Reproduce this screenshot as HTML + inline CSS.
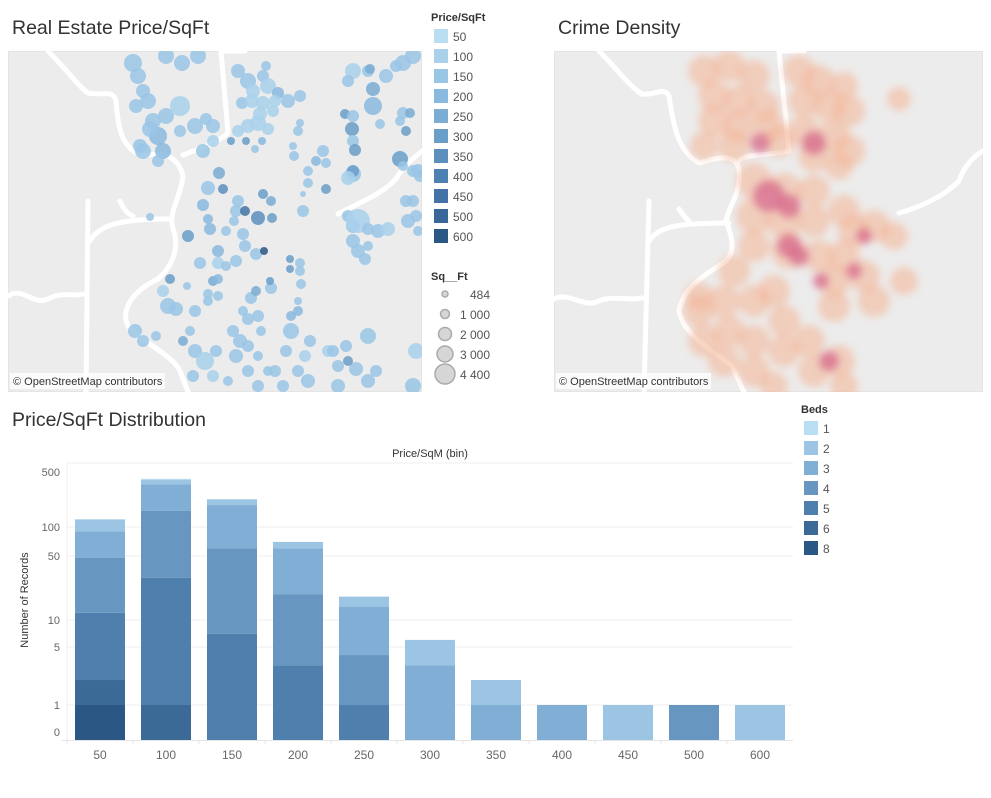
<!DOCTYPE html>
<html><head><meta charset="utf-8">
<style>
html,body{margin:0;padding:0;background:#fff;}
body{width:991px;height:793px;overflow:hidden;font-family:"Liberation Sans",sans-serif;}
svg text{font-family:"Liberation Sans",sans-serif;}
</style></head>
<body>
<svg id="root" width="991" height="793" viewBox="0 0 991 793" xmlns="http://www.w3.org/2000/svg">
<defs>
<filter id="blur" x="-20%" y="-20%" width="140%" height="140%"><feGaussianBlur stdDeviation="4"/></filter>
<clipPath id="clip1"><rect x="0" y="0" width="414" height="341"/></clipPath>
<clipPath id="clip2"><rect x="0" y="0" width="429" height="341"/></clipPath>
</defs>
<text x="12" y="34" font-size="19.5" fill="#333">Real Estate Price/SqFt</text>
<text x="558" y="34" font-size="19.5" fill="#333">Crime Density</text>
<text x="12" y="426" font-size="19.5" fill="#333">Price/SqFt Distribution</text>

<g id="map1" transform="translate(8,51)">
  <g clip-path="url(#clip1)">
  <rect width="414" height="341" fill="#ececec" stroke="#ddd"/>
  <g id="roads1" fill="none" stroke="#fff" stroke-width="5" stroke-linecap="round" stroke-linejoin="round">
    <path d="M40,0 C60,20 70,35 80,42 C95,45 105,38 108,50 C110,80 115,98 135,105 C155,100 170,105 175,125 C172,150 160,160 165,178 C172,195 165,215 150,228 C125,240 112,258 120,275 C140,295 165,305 172,320 L180,341"/>
    <path d="M213,0 L220,82 C205,95 190,98 175,104"/>
    <path d="M213,0 L237,0"/>
    <path d="M80,150 L78,341"/>
    <path d="M82,190 C90,175 110,168 160,168"/>
    <path d="M112,150 C116,158 118,162 125,165"/>
    <path d="M0,245 C15,235 25,255 40,248 C55,240 65,246 75,243"/>
    <path d="M330,163 C355,150 380,140 390,125 C395,115 405,108 414,100"/>
  </g>
  <g id="dots1"></g>
  </g>
  <rect x="2" y="322" width="155" height="16" fill="#fff" opacity="0.8"/>
  <text x="5" y="334" font-size="11" fill="#333">© OpenStreetMap contributors</text>
</g>

<g id="legend1">
  <text x="431" y="21" font-size="11" font-weight="bold" fill="#333">Price/SqFt</text>
</g>
<g id="legend1b">
  <text x="431" y="280" font-size="11" font-weight="bold" fill="#333">Sq__Ft</text>
</g>

<g id="map2" transform="translate(554,51)">
  <g clip-path="url(#clip2)">
  <rect width="429" height="341" fill="#ececec" stroke="#ddd"/>
  <g fill="none" stroke="#fff" stroke-width="5" stroke-linecap="round" stroke-linejoin="round">
    <path d="M45,0 C65,20 75,35 88,43 C100,45 110,35 115,45 C120,80 125,100 145,112 C160,108 180,100 185,118 C188,140 175,155 172,170 C178,185 182,200 172,210 C150,225 130,235 125,260 C130,285 160,300 178,315 L190,341"/>
    <path d="M225,0 L235,100 C215,105 190,102 185,110"/>
    <path d="M225,0 L250,0"/>
    <path d="M95,150 L90,341"/>
    <path d="M95,190 C105,175 125,172 175,172"/>
    <path d="M125,158 C130,165 132,168 135,170"/>
    <path d="M0,248 C15,240 30,258 45,250 C60,244 72,250 88,247"/>
    <path d="M345,162 C370,155 390,145 405,130 C410,115 420,105 429,100"/>
  </g>
  <g id="heat" filter="url(#blur)"></g>
  </g>
  <rect x="2" y="322" width="155" height="16" fill="#fff" opacity="0.8"/>
  <text x="5" y="334" font-size="11" fill="#333">© OpenStreetMap contributors</text>
</g>

<g id="hist">
  <text x="430" y="457" font-size="11" fill="#333" text-anchor="middle">Price/SqM (bin)</text>
  <text transform="translate(28,600) rotate(-90)" font-size="11" fill="#333" text-anchor="middle">Number of Records</text>
  <g id="grid"></g>
  <g id="bars"></g>
  <g id="xticks"></g>
  <g id="yticks"></g>
</g>
<g id="legend2">
  <text x="801" y="413" font-size="11" font-weight="bold" fill="#333">Beds</text>
</g>
</svg>
<script>
// ---- histogram data ----
const bins = ['50','100','150','200','250','300','350','400','450','500','600'];
const bedCats = ['1','2','3','4','5','6','8'];
// counts per bin per bed category
const beds1 = [0,10,0,0,0,0,0,0,0,0,0];
const beds2 = [35,50,35,10,4,3,1,0,1,0,1];
const beds3 = [42,190,130,41,10,3,1,1,0,0,0];
const beds4 = [36,131,53,16,3,0,0,0,0,1,0];
const beds5 = [10,28,7,3,1,0,0,0,0,0,0];
const beds6 = [1,1,0,0,0,0,0,0,0,0,0];
const beds8 = [1,0,0,0,0,0,0,0,0,0,0];
const yTickVals = [0,1,5,10,50,100,500];
const bedColors = ['#b9ddf1','#9bc5e3','#80aed4','#6797c0','#4f7fad','#3b6a96','#2a5783'];

const NS='http://www.w3.org/2000/svg';
function el(tag, attrs, parent){const e=document.createElementNS(NS,tag);for(const k in attrs)e.setAttribute(k,attrs[k]);parent.appendChild(e);return e;}

const yRefV=[0,1,5,10,50,100,500];
const yRefP=[740,705,647,620,556,527,472];
function yScale(v){
  if(v<=0) return 740;
  if(v<=1) return 740-35*v;
  const lv=Math.log10(v);
  for(let i=1;i<yRefV.length-1;i++){
    const a=yRefV[i],b=yRefV[i+1];
    if(v<=b||i===yRefV.length-2){
      const la=Math.log10(a),lb=Math.log10(b);
      return yRefP[i]+(lv-la)/(lb-la)*(yRefP[i+1]-yRefP[i]);
    }
  }
}
const x0=67, step=66, bw=50;
function xCenter(i){return x0+33+i*step;}

const grid=document.getElementById('grid');
[463,527,556,620,647,705].forEach(y=>{
  const l=el('line',{x1:67,x2:793,y1:y,y2:y,stroke:'#efefef','stroke-width':1},grid);
  
  
});
el('line',{x1:67,x2:67,y1:463,y2:740,stroke:'#efefef'},grid);
el('line',{x1:62,x2:793,y1:740.5,y2:740.5,stroke:'#e6e6e6'},grid);

const yt=document.getElementById('yticks');
yTickVals.forEach(v=>{
  const y = v===0 ? 732 : yScale(v);
  const t=el('text',{x:60,y:y+4,'font-size':11,fill:'#666','text-anchor':'end'},yt);
  t.textContent=String(v);
  
  
});

const series=[beds8,beds6,beds5,beds4,beds3,beds2,beds1];
const seriesColor=[6,5,4,3,2,1,0];
const barsG=document.getElementById('bars');
const xt=document.getElementById('xticks');
bins.forEach((b,i)=>{
  let cum=0;
  series.forEach((s,k)=>{
    const v=s[i]; if(!v) return;
    const lo=cum; cum+=v;
    const y1=yScale(lo), y2=yScale(cum);
    const r=el('rect',{x:xCenter(i)-bw/2,y:y2,width:bw,height:y1-y2,fill:bedColors[seriesColor[k]]},barsG);
    
    
  });
  const t=el('text',{x:xCenter(i),y:759,'font-size':12,fill:'#666','text-anchor':'middle'},xt);
  t.textContent=b;
  
  
  el('line',{x1:x0+i*step,x2:x0+i*step,y1:740,y2:744,stroke:'#e6e6e6'},xt);
});

const lg2=document.getElementById('legend2');
bedCats.forEach((c,i)=>{
  const y=421+i*20;
  const r=el('rect',{x:804,y:y,width:14,height:14,fill:bedColors[i]},lg2);
  
  
  const t=el('text',{x:823,y:y+12,'font-size':12,fill:'#555'},lg2);
  t.textContent=c;
  
  
});

const priceLabels=['50','100','150','200','250','300','350','400','450','500','600'];
const priceColors=['#b9ddf1','#a9d1ec','#9ac6e6','#89b9de','#7aacd4','#6a9dc8','#5c8fbd','#4e80b1','#4373a6','#3a6799','#2a5783'];
const lg1=document.getElementById('legend1');
priceLabels.forEach((p,i)=>{
  const y=29+i*20;
  const r=el('rect',{x:434,y:y,width:14,height:14,fill:priceColors[i]},lg1);
  
  
  const t=el('text',{x:453,y:y+12,'font-size':12,fill:'#555'},lg1);
  t.textContent=p;
  
  
});
const sizeLabels=['484','1 000','2 000','3 000','4 400'];
const sizeR=[3,4.5,6.5,8,10];
const lg1b=document.getElementById('legend1b');
sizeLabels.forEach((s,i)=>{
  const y=295+i*20;
  const c=el('circle',{cx:445,cy:y-1,r:sizeR[i],fill:'#d6d6d6',stroke:'#aaa','stroke-width':1.5},lg1b);
  
  
  const t=el('text',{x:490,y:y+4,'font-size':12,fill:'#555','text-anchor':'end'},lg1b);
  t.textContent=s;
  
  
});

const dots=[[125,12,9,1],[130,25,8,1],[135,40,7,1],[128,55,7,1],[140,50,8,1],[145,70,8,1],[150,85,9,2],[158,65,8,1],[172,55,10,0],[155,100,8,2],[172,80,6,1],[187,75,8,1],[198,68,6,1],[205,75,7,1],[195,100,7,1],[205,90,6,0],[135,100,8,1],[174,12,8,1],[158,5,8,1],[190,5,8,1],[142,78,8,1],[132,95,7,1],[150,110,6,1],
[230,20,7,1],[240,30,8,1],[255,25,6,1],[245,40,7,0],[260,35,8,0],[270,42,6,2],[234,52,6,1],[244,50,7,0],[255,52,7,0],[267,50,6,0],[280,50,7,1],[292,45,6,1],[252,63,7,0],[265,60,6,0],[240,75,7,0],[250,72,8,0],[260,78,6,0],[230,80,6,0],[223,90,4,4],[238,90,4,4],[247,98,4,1],[254,90,4,2],[258,15,5,1],[292,72,4,1],[290,80,5,1],[285,95,4,1],[286,105,5,1],
[345,20,8,0],[360,20,6,1],[340,30,6,1],[362,18,5,3],[378,25,7,1],[388,15,6,1],[395,12,8,1],[405,5,8,1],[365,38,7,3],[365,55,9,2],[337,63,5,4],[345,65,6,1],[344,78,7,4],[345,90,6,1],[347,99,6,4],[372,73,5,1],[395,62,6,1],[402,62,5,3],[392,70,5,1],[398,80,5,4],[392,108,8,4],[410,120,7,1],[412,125,6,1],[345,123,8,1],[345,120,6,4],[340,127,7,0],[315,100,6,1],[308,110,5,2],[318,112,5,1],[300,120,5,1],[300,132,5,1],[318,138,5,4],[295,143,3,1],[295,160,6,1],
[211,122,6,3],[215,138,5,5],[200,137,7,1],[255,143,5,4],[263,150,5,3],[230,150,6,1],[228,160,6,1],[237,160,5,7],[250,167,7,5],[264,167,5,4],[195,154,6,2],[200,168,5,2],[202,178,6,2],[218,180,5,1],[226,170,5,1],[180,185,6,4],[235,183,6,1],[210,200,6,2],[237,195,6,1],[248,203,6,1],[256,200,4,9],[228,210,6,1],[210,212,6,0],[192,212,6,1],[218,215,5,1],[162,228,5,4],[179,235,4,1],[155,240,6,0],[205,230,5,3],[210,228,5,2],[200,243,5,1],[210,245,5,1],[263,237,6,1],[262,230,4,4],[282,208,4,4],[282,218,4,4],[292,212,5,1],[292,220,5,1],[293,233,5,1],[142,166,4,1],
[160,255,8,1],[168,258,7,1],[187,260,6,1],[200,250,5,1],[243,247,6,1],[248,240,5,3],[235,260,5,1],[240,268,6,1],[250,265,6,1],[290,260,5,2],[283,265,5,2],[290,250,4,1],[127,280,7,1],[135,290,6,1],[148,285,5,1],[175,290,5,3],[187,300,7,1],[197,310,9,0],[182,280,5,1],[208,300,6,1],[205,325,6,0],[225,280,6,1],[232,290,7,1],[240,295,6,1],[228,305,7,1],[250,305,5,1],[253,280,5,1],[240,320,6,1],[260,320,5,1],[267,320,6,1],[283,280,8,1],[278,300,6,1],[297,305,6,0],[290,320,6,1],[302,290,6,1],[320,300,6,0],[325,300,6,1],[338,295,6,1],[330,315,6,1],[348,318,7,1],[360,285,8,1],[340,310,5,4],[368,320,6,1],[360,330,7,1],[408,300,8,0],[405,335,8,1],[220,330,5,1],[275,335,6,1],[250,335,6,1],[300,330,7,1],[330,335,7,1],[185,325,6,1],
[340,165,6,1],[345,175,7,1],[350,170,12,0],[360,178,6,1],[370,180,7,1],[380,178,7,0],[400,170,7,1],[408,165,6,1],[410,180,5,1],[345,190,7,1],[350,200,7,1],[360,195,5,1],[357,208,6,1],[398,150,6,1],[405,150,6,1],[405,120,6,1],[395,115,5,1]];
const dg=document.getElementById('dots1');
dots.forEach(d=>{
  const c=el('circle',{cx:d[0],cy:d[1],r:d[2],fill:priceColors[Math.min(d[3]+1,10)],'fill-opacity':0.85},dg);
  
  
});

const heat=[[150,20,12],[175,15,12],[200,25,12],[160,45,12],[185,50,12],[210,55,12],[160,70,12],[185,75,12],[215,75,12],[150,95,10],[180,95,12],[225,90,12],[245,20,12],[265,30,12],[290,35,10],[250,50,12],[275,55,12],[295,60,12],[250,80,12],[280,85,12],[295,100,12],[260,105,12],[285,115,10],[345,48,8],
[200,130,14],[230,140,14],[260,140,12],[200,165,14],[230,170,14],[260,170,12],[290,160,12],[200,195,12],[235,200,14],[265,205,12],[300,180,12],[320,175,12],[340,185,10],[290,205,12],[280,230,12],[310,225,12],[320,250,12],[350,230,10],[280,255,12],[180,220,12],[170,250,12],[145,260,12],[150,290,12],[175,280,12],[200,250,12],[220,240,12],[230,270,12],[200,290,12],[170,310,12],[200,320,12],[230,300,12],[255,290,12],[260,320,12],[285,310,12],[290,335,10],[220,335,10],[145,245,10]];
const dark=[[206,92,8],[260,92,10],[215,145,14],[235,155,10],[235,195,10],[245,205,8],[267,230,6],[275,310,8],[310,185,6],[300,220,6]];
const hg=document.getElementById('heat');
heat.forEach(h=>{const c=el('circle',{cx:h[0],cy:h[1],r:h[2]+4,fill:'#f4b394','fill-opacity':0.55},hg);});
dark.forEach(h=>{const c=el('circle',{cx:h[0],cy:h[1],r:h[2]+2,fill:'#d86e8e','fill-opacity':0.8},hg);});
</script>
</body></html>
